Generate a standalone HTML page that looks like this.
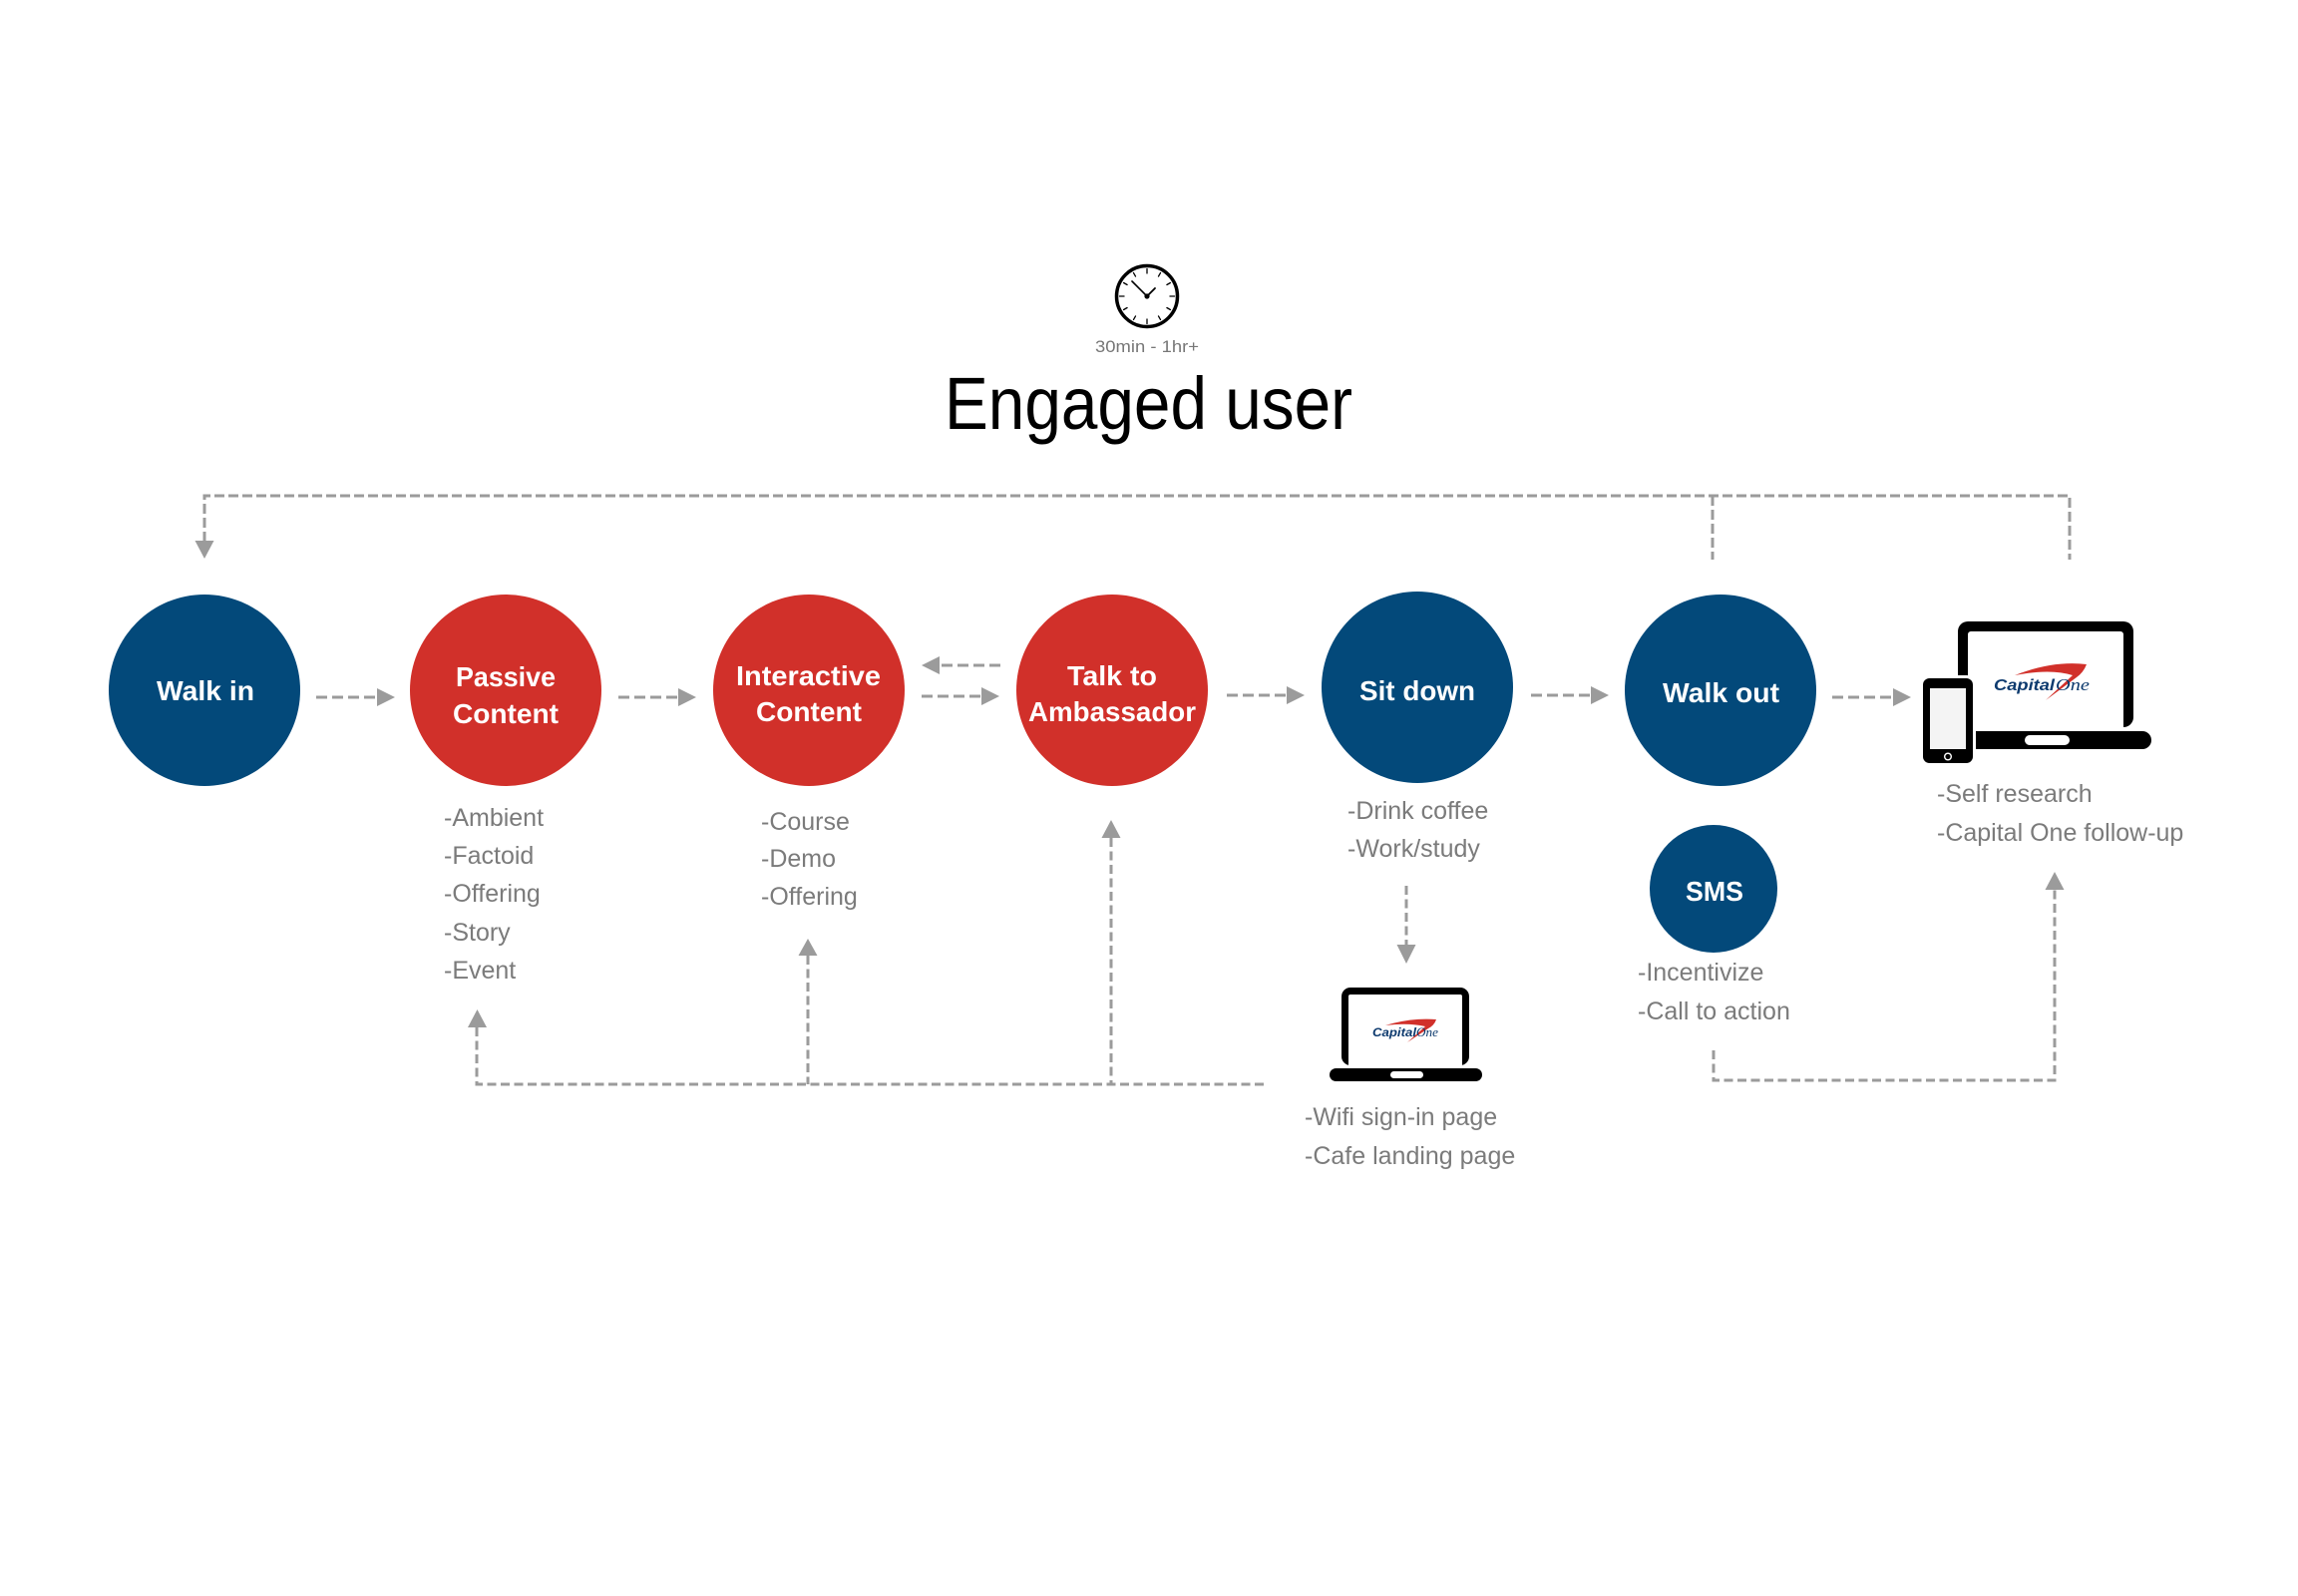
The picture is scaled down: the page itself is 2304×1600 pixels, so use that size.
<!DOCTYPE html>
<html><head><meta charset="utf-8"><style>
html,body{margin:0;padding:0;background:#fff;}
svg{display:block;}
</style></head><body>
<svg width="2304" height="1600" viewBox="0 0 2304 1600" xmlns="http://www.w3.org/2000/svg">
<rect width="2304" height="1600" fill="#fff"/>

<!-- Clock -->
<g stroke="#000" stroke-linecap="round">
<circle cx="1150" cy="297" r="30.5" fill="#fff" stroke-width="3.5"/>
<g stroke-width="1.3">
<line x1="1150" y1="274" x2="1150" y2="269.5"/>
<line x1="1161.5" y1="277.1" x2="1163.5" y2="273.6"/>
<line x1="1169.9" y1="285.5" x2="1173.4" y2="283.5"/>
<line x1="1173" y1="297" x2="1177.5" y2="297"/>
<line x1="1169.9" y1="308.5" x2="1173.4" y2="310.5"/>
<line x1="1161.5" y1="316.9" x2="1163.5" y2="320.4"/>
<line x1="1150" y1="320" x2="1150" y2="324.5"/>
<line x1="1138.5" y1="316.9" x2="1136.5" y2="320.4"/>
<line x1="1130.1" y1="308.5" x2="1126.6" y2="310.5"/>
<line x1="1127" y1="297" x2="1122.5" y2="297"/>
<line x1="1130.1" y1="285.5" x2="1126.6" y2="283.5"/>
<line x1="1138.5" y1="277.1" x2="1136.5" y2="273.6"/>
</g>
<line x1="1150" y1="297" x2="1135" y2="282" stroke-width="1.6"/>
<line x1="1150" y1="297" x2="1158" y2="289" stroke-width="1.8"/>
</g>
<circle cx="1150" cy="297" r="2.6" fill="#000"/>

<text x="1098" y="353" font-family="Liberation Sans, sans-serif" font-size="17" fill="#777" textLength="104" lengthAdjust="spacingAndGlyphs">30min - 1hr+</text>
<text x="947" y="430" font-family="Liberation Sans, sans-serif" font-size="74" fill="#000" textLength="409" lengthAdjust="spacingAndGlyphs">Engaged user</text>

<!-- Dashed connectors -->
<g fill="none" stroke="#9b9b9b" stroke-width="3">
<path d="M205,543 V497 H2075 V561" stroke-dasharray="10 4"/>
<path d="M1717,497 V561" stroke-dasharray="10 4"/>
<path d="M478,1030 V1087 H1267" stroke-dasharray="9 4.5"/>
<path d="M810,958 V1087" stroke-dasharray="9 4.5"/>
<path d="M1114,840 V1087" stroke-dasharray="9 4.5"/>
<path d="M1410,888 V948" stroke-dasharray="9 4.5"/>
<path d="M1718,1053 V1083 H2060 V892" stroke-dasharray="9 4.5"/>
<g stroke-dasharray="11 5">
<path d="M317,699 H379"/>
<path d="M620,699 H681"/>
<path d="M924,698 H985"/>
<path d="M1003,667 H941"/>
<path d="M1230,697 H1291"/>
<path d="M1535,697 H1596"/>
<path d="M1837,699 H1899"/>
</g>
</g>
<g fill="#9b9b9b">
<polygon points="195.5,542 214.5,542 205,560"/>
<polygon points="469,1030 488,1030 478.5,1012"/>
<polygon points="800.5,958 819.5,958 810,941"/>
<polygon points="1104.5,840 1123.5,840 1114,822"/>
<polygon points="1400.5,947 1419.5,947 1410,966"/>
<polygon points="2050.5,892 2069.5,892 2060,874"/>
<polygon points="378,690 378,708 396,699"/>
<polygon points="680,690 680,708 698,699"/>
<polygon points="984,689 984,707 1002,698"/>
<polygon points="942,658 942,676 924,667"/>
<polygon points="1290,688 1290,706 1308,697"/>
<polygon points="1595,688 1595,706 1613,697"/>
<polygon points="1898,690 1898,708 1916,699"/>
</g>

<!-- Circles -->
<circle cx="205" cy="692" r="96" fill="#03497a"/>
<circle cx="507" cy="692" r="96" fill="#d1302a"/>
<circle cx="811" cy="692" r="96" fill="#d1302a"/>
<circle cx="1115" cy="692" r="96" fill="#d1302a"/>
<circle cx="1421" cy="689" r="96" fill="#03497a"/>
<circle cx="1725" cy="692" r="96" fill="#03497a"/>
<circle cx="1718" cy="891" r="64" fill="#03497a"/>

<g font-family="Liberation Sans, sans-serif" font-weight="bold" font-size="28" fill="#fff">
<text x="157" y="702" textLength="98" lengthAdjust="spacingAndGlyphs">Walk in</text>
<text x="457" y="688" textLength="100" lengthAdjust="spacingAndGlyphs">Passive</text>
<text x="454" y="725" textLength="106" lengthAdjust="spacingAndGlyphs">Content</text>
<text x="738" y="687" textLength="145" lengthAdjust="spacingAndGlyphs">Interactive</text>
<text x="758" y="723" textLength="106" lengthAdjust="spacingAndGlyphs">Content</text>
<text x="1070" y="687" textLength="90" lengthAdjust="spacingAndGlyphs">Talk to</text>
<text x="1031" y="723" textLength="168" lengthAdjust="spacingAndGlyphs">Ambassador</text>
<text x="1363" y="702" textLength="116" lengthAdjust="spacingAndGlyphs">Sit down</text>
<text x="1667" y="704" textLength="117" lengthAdjust="spacingAndGlyphs">Walk out</text>
<text x="1690" y="903" textLength="58" lengthAdjust="spacingAndGlyphs">SMS</text>
</g>

<!-- Gray lists -->
<g font-family="Liberation Sans, sans-serif" font-size="25" fill="#7b7b7b">
<text x="445" y="828">-Ambient</text>
<text x="445" y="866">-Factoid</text>
<text x="445" y="904">-Offering</text>
<text x="445" y="943">-Story</text>
<text x="445" y="981">-Event</text>
<text x="763" y="832">-Course</text>
<text x="763" y="869">-Demo</text>
<text x="763" y="907">-Offering</text>
<text x="1351" y="821">-Drink coffee</text>
<text x="1351" y="859">-Work/study</text>
<text x="1308" y="1128">-Wifi sign-in page</text>
<text x="1308" y="1167">-Cafe landing page</text>
<text x="1642" y="983">-Incentivize</text>
<text x="1642" y="1022">-Call to action</text>
<text x="1942" y="804">-Self research</text>
<text x="1942" y="843">-Capital One follow-up</text>
</g>

<!-- Big laptop -->
<rect x="1963" y="623" width="176" height="106" rx="10" fill="#000"/>
<rect x="1973" y="633" width="156" height="110" rx="3" fill="#fff"/>
<rect x="1945" y="733" width="212" height="18" rx="9" fill="#000"/>
<rect x="2030" y="737" width="45" height="10" rx="5" fill="#fff"/>
<!-- logo big -->
<path d="M2020,677 Q2058,662 2092,666 Q2089,674 2082,679 L2051,702 L2078,677 Q2056,670 2020,677 Z" fill="#d1302a"/>
<text x="1999" y="692" font-family="Liberation Sans, sans-serif" font-weight="bold" font-style="italic" font-size="16" fill="#0d3a6e" textLength="61" lengthAdjust="spacingAndGlyphs">Capital</text>
<text x="2061" y="692" font-family="Liberation Serif, serif" font-style="italic" font-size="17" fill="#0d3a6e" textLength="34" lengthAdjust="spacingAndGlyphs">One</text>
<!-- phone -->
<rect x="1926.5" y="678.5" width="53" height="88" rx="8" fill="#000" stroke="#fff" stroke-width="3"/>
<rect x="1935" y="690" width="36" height="61" fill="#f4f4f4"/>
<circle cx="1953" cy="758.5" r="3.3" fill="none" stroke="#fff" stroke-width="1.4"/>

<!-- Small laptop -->
<rect x="1345" y="990" width="128" height="78" rx="9" fill="#000"/>
<rect x="1352" y="997" width="114" height="80" rx="2" fill="#fff"/>
<rect x="1333" y="1071" width="153" height="13" rx="6.5" fill="#000"/>
<rect x="1394" y="1074" width="33" height="7" rx="3.5" fill="#fff"/>
<path d="M1389,1028 Q1415,1020 1440,1022 Q1438,1028 1432,1031 L1411,1045 L1429,1029 Q1412,1025 1389,1028 Z" fill="#d1302a"/>
<text x="1376" y="1039" font-family="Liberation Sans, sans-serif" font-weight="bold" font-style="italic" font-size="12" fill="#0d3a6e" textLength="44" lengthAdjust="spacingAndGlyphs">Capital</text>
<text x="1420" y="1039" font-family="Liberation Serif, serif" font-style="italic" font-size="13" fill="#0d3a6e" textLength="22" lengthAdjust="spacingAndGlyphs">One</text>
</svg>
</body></html>
